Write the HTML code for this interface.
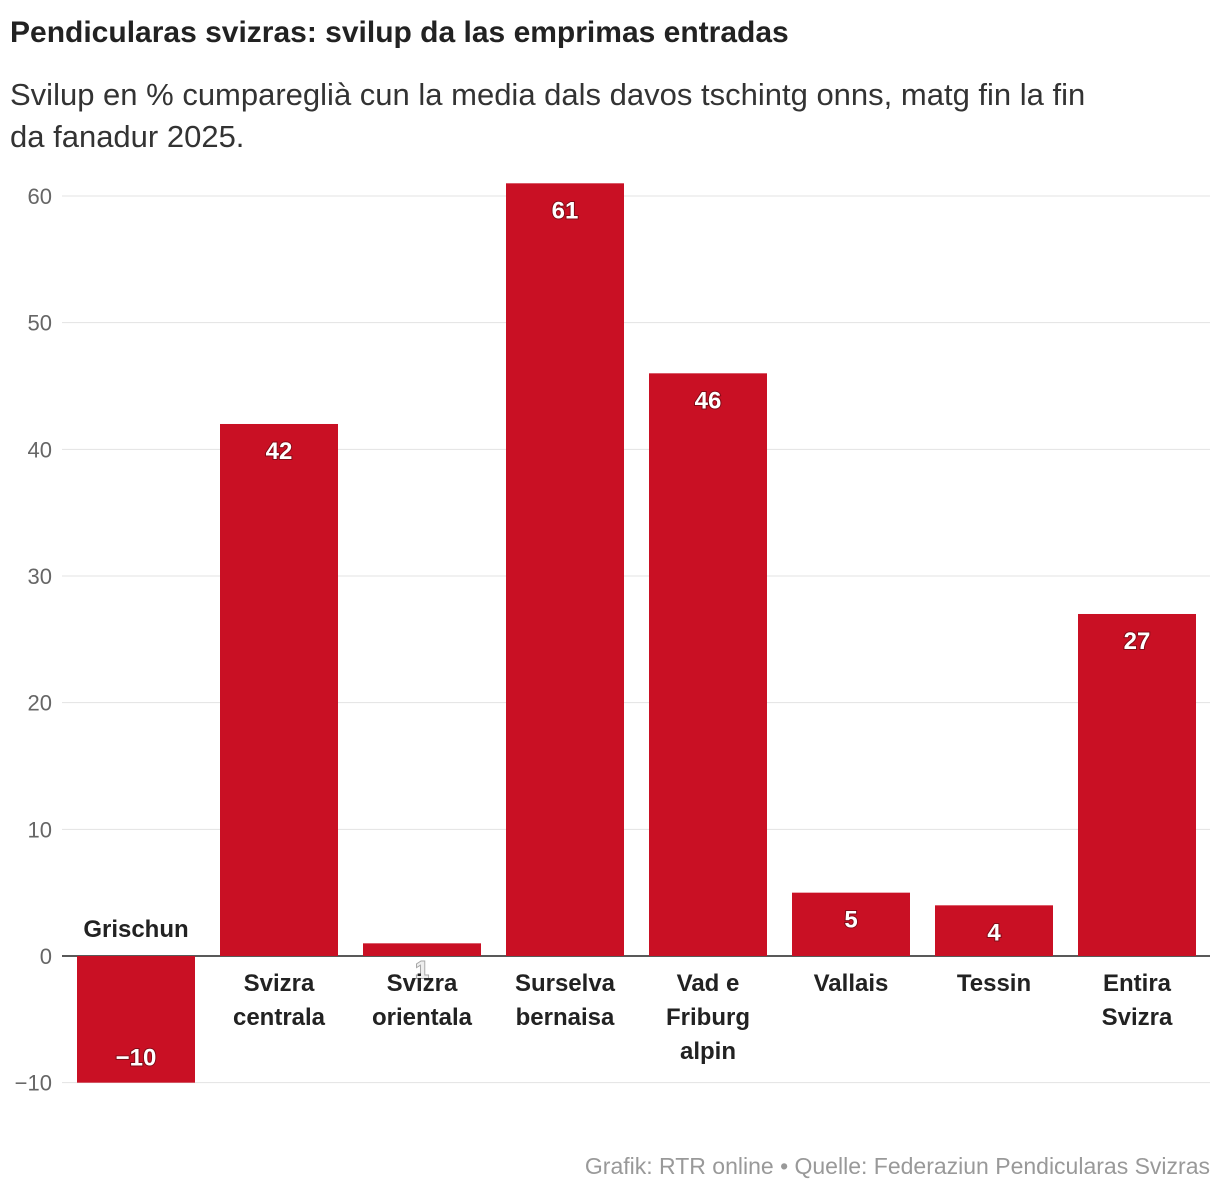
<!DOCTYPE html>
<html><head><meta charset="utf-8">
<style>
body{margin:0;background:#fff;width:1220px;height:1200px;overflow:hidden;font-family:"Liberation Sans",sans-serif;}
#title{position:absolute;left:10px;top:16px;font-size:30px;font-weight:bold;color:#222;}
#sub{position:absolute;left:10px;top:74px;width:1105px;font-size:31px;line-height:42px;color:#333;}
#foot{position:absolute;right:10px;top:1153px;font-size:23px;color:#999;}
svg{position:absolute;left:0;top:0;}
</style></head><body>
<div id="title">Pendicularas svizras: svilup da las emprimas entradas</div>
<div id="sub">Svilup en % cumpareglià cun la media dals davos tschintg onns, matg fin la fin da fanadur 2025.</div>
<svg id="chart" width="1220" height="1200"></svg>
<div id="foot">Grafik: RTR online • Quelle: Federaziun Pendicularas Svizras</div>
<script>
const categories=[["Grischun"],["Svizra","centrala"],["Svizra","orientala"],["Surselva","bernaisa"],["Vad e","Friburg","alpin"],["Vallais"],["Tessin"],["Entira","Svizra"]];
const values=[-10,42,1,61,46,5,4,27];
const ticks=[-10,0,10,20,30,40,50,60];
const NS="http://www.w3.org/2000/svg";
const svg=document.getElementById('chart');
const y=v=>956-v*12.667;
const x0=64.5,step=143,bw=118;
const x=i=>x0+i*step+(step-bw)/2;
function mk(t,a){const e=document.createElementNS(NS,t);for(const k in a)e.setAttribute(k,a[k]);svg.appendChild(e);return e;}
ticks.forEach(t=>{
 const l=mk('line',{x1:62,x2:1210,y1:y(t),y2:y(t),stroke:t===0?'#222':'#e3e3e3','stroke-width':t===0?1.5:1});
 
 
 const tx=mk('text',{x:52,y:y(t)+8,'text-anchor':'end','font-size':22,fill:'#666'});
 tx.textContent=t<0?'−'+Math.abs(t):t;
 
 
});
values.forEach((v,i)=>{
 const r=mk('rect',{x:x(i),y:Math.min(y(v),y(0)),width:bw,height:Math.abs(y(v)-y(0)),fill:'#c91024'});
 
 
 const cx=x(i)+bw/2;
 let ly;
 if(v<0) ly=y(v)-17; else if(y(0)-y(v)<40) ly=y(0)+22; else ly=y(v)+35;
 const vt=mk('text',{x:cx,y:ly,'text-anchor':'middle','font-size':24,'font-weight':'bold',fill:(y(0)-y(v)<40&&v>=0)?'#eee':'#fff',style:'paint-order:stroke;stroke:rgba(0,0,0,0.35);stroke-width:2px'});
 vt.textContent=v<0?'−'+Math.abs(v):v;
 
 
 const lines=categories[i];
 lines.forEach((s,j)=>{
  const ct=mk('text',{x:cx,y:v<0?y(0)-19:y(0)+35+j*34,'text-anchor':'middle','font-size':24,'font-weight':'bold',fill:'#222'});
  ct.textContent=s;
  
  
 });
});
</script>
</body></html>
